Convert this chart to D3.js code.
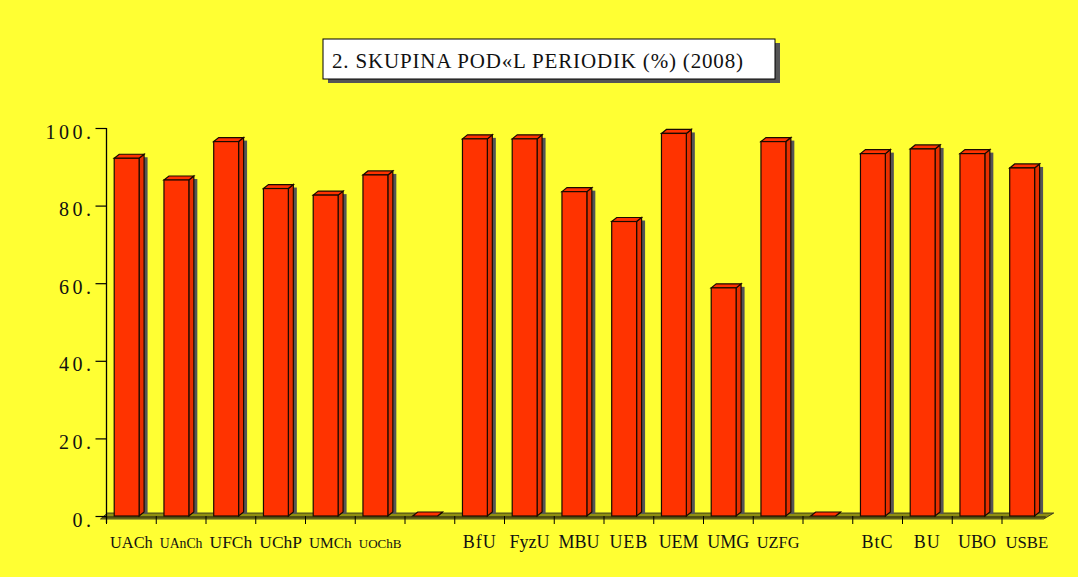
<!DOCTYPE html>
<html><head><meta charset="utf-8">
<script src="https://cdn.jsdelivr.net/npm/d3@7/dist/d3.min.js"></script>
<style>
html,body{margin:0;padding:0;background:#FFFF33;}
svg{display:block;}
text{font-family:"Liberation Serif","DejaVu Serif",serif;fill:#111;}
</style></head>
<body>
<svg id="chart" width="1078" height="577"></svg>
<script>
const titleText = "2. SKUPINA POD«L PERIODIK (%) (2008)";
const categories = ["UACh","UAnCh","UFCh","UChP","UMCh","UOChB","","BfU","FyzU","MBU","UEB","UEM","UMG","UZFG","","BtC","BU","UBO","USBE"];
const values = [92.2, 86.6, 96.5, 84.4, 82.7, 87.9, 0, 97.2, 97.2, 83.6, 75.9, 98.6, 58.8, 96.5, 0, 93.4, 94.6, 93.4, 89.7];
const yTicks = [0, 20, 40, 60, 80, 100];
const yTickLabels = ["0.", "20.", "40.", "60.", "80.", "100."];

const svg = d3.select("#chart");
svg.append("rect").attr("width",1078).attr("height",577).attr("fill","#FFFF33");

const x = d3.scaleBand().domain(d3.range(categories.length)).range([106.5, 1051.75]).padding(0);
const y = d3.scaleLinear().domain([0,100]).range([516, 128]);
const y0 = y(0);
const dx = 5, dy = 4;
const step = x.step();
const barOff = step*0.155, barW = step*0.5;

// title box
const tb = {x:323, y:39, w:452, h:40};
svg.append("rect").attr("x",tb.x+5).attr("y",tb.y+4).attr("width",tb.w).attr("height",tb.h).attr("fill","#555");
svg.append("rect").attr("x",tb.x).attr("y",tb.y).attr("width",tb.w).attr("height",tb.h).attr("fill","#fff").attr("stroke","#000").attr("stroke-width",1);
svg.append("text").attr("x",332).attr("y",68).attr("font-size",21)
  .attr("textLength",411).attr("lengthAdjust","spacing").text(titleText);

// floor
const xr0 = x.range()[0], xr1 = x.range()[1];
svg.append("polygon")
  .attr("points",[[xr0-6,y0+3],[xr1-8,y0+3],[xr1+2,y0-3],[xr0+1,y0-3]].map(p=>p.join(",")).join(" "))
  .attr("fill","#8f8f10").attr("stroke","#222").attr("stroke-width",0.8);
svg.append("line").attr("x1",xr0-4).attr("x2",xr1-6).attr("y1",y0+1).attr("y2",y0+1).attr("stroke","#111").attr("stroke-width",1);

// x ticks
svg.append("g").selectAll("line").data(d3.range(categories.length)).join("line")
  .attr("x1",d=>x(d)).attr("x2",d=>x(d)).attr("y1",y0).attr("y2",y0+8)
  .attr("stroke","#000").attr("stroke-width",1);

// y axis
const yAxis = d3.axisLeft(y).tickValues(yTicks).tickSize(11).tickSizeOuter(0).tickPadding(1)
  .tickFormat((d,i)=>yTickLabels[i]);
const gy = svg.append("g").attr("transform",`translate(${xr0},0)`).call(yAxis);
gy.select(".domain").remove();
gy.selectAll(".tick line").attr("stroke","#000").attr("stroke-width",1.2);
gy.selectAll(".tick text").attr("font-size",20).attr("font-family","Liberation Serif, serif")
  .attr("letter-spacing","3.5px").attr("dy","0.5em").attr("fill","#111");
svg.append("line").attr("x1",xr0).attr("x2",xr0).attr("y1",y(100)).attr("y2",y0+7).attr("stroke","#000").attr("stroke-width",1.3);

// bars
const bars = svg.append("g").selectAll("g").data(values.map((v,i)=>({v,i}))).join("g");
bars.filter(d=>d.v>0).append("rect")
  .attr("x",d=>x(d.i)+barOff+barW+dx-0.5).attr("y",d=>y(d.v)-dy+3)
  .attr("width",4).attr("height",d=>y0-(y(d.v)-dy+3)-2).attr("fill","#555");
bars.append("polygon")
  .attr("points",d=>{const xl=x(d.i)+barOff+barW, yt=y(d.v);
    return [[xl,yt],[xl+dx,yt-dy],[xl+dx,y0-dy],[xl,y0]].map(p=>p.join(",")).join(" ");})
  .attr("fill","#E83000").attr("stroke","#1a0a00").attr("stroke-width",1.2);
bars.append("polygon")
  .attr("points",d=>{const xl=x(d.i)+barOff, yt=y(d.v);
    return [[xl,yt],[xl+dx,yt-dy],[xl+barW+dx,yt-dy],[xl+barW,yt]].map(p=>p.join(",")).join(" ");})
  .attr("fill","#FF3300").attr("stroke","#1a0a00").attr("stroke-width",1.2);
bars.filter(d=>d.v>0).append("rect")
  .attr("x",d=>x(d.i)+barOff).attr("y",d=>y(d.v)).attr("width",barW).attr("height",d=>y0-y(d.v))
  .attr("fill","#FF3300").attr("stroke","#1a0a00").attr("stroke-width",1.2);

// x labels
const maxW = step - 7;
const xl = svg.append("g").selectAll("text").data(categories).join("text")
  .attr("x",(d,i)=>x(i)+step/2).attr("y",548).attr("text-anchor","middle")
  .attr("font-size",18).text(d=>d);
xl.each(function(){
  const w = this.getComputedTextLength();
  if (w > maxW) d3.select(this).attr("font-size", (18*maxW/w).toFixed(2));
  else if (w + 3*(this.textContent.length-1) <= maxW) d3.select(this).attr("letter-spacing","1px");
});
</script>
</body></html>
